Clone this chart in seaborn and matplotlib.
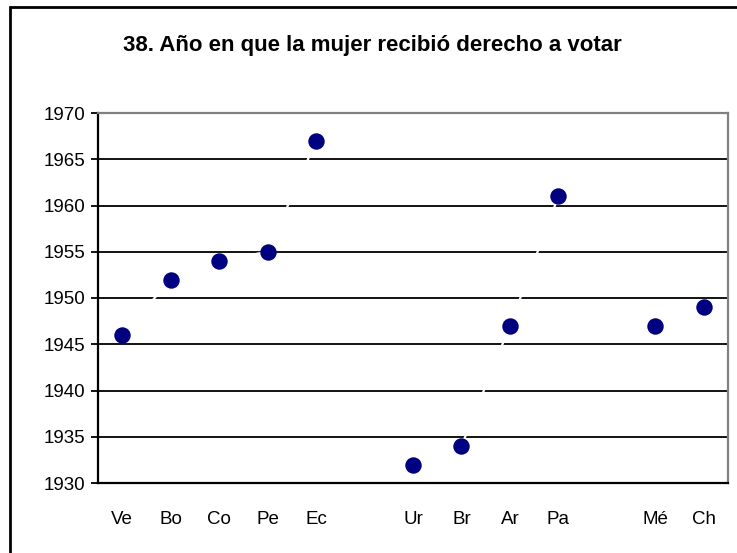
import numpy as np
import pandas as pd
import matplotlib
matplotlib.use("Agg")
import matplotlib.pyplot as plt
from matplotlib.patches import Rectangle
import seaborn as sns

# Countries (blank slots separate the regional groups)
categories = ["Ve", "Bo", "Co", "Pe", "Ec", "", "Ur", "Br", "Ar", "Pa", "", "Mé", "Ch"]
years = [1946, 1952, 1954, 1955, 1967, np.nan, 1932, 1934, 1947, 1961, np.nan, 1947, 1949]
y_ticks = [1930, 1935, 1940, 1945, 1950, 1955, 1960, 1965, 1970]
title = "38. Año en que la mujer recibió derecho a votar"

df = pd.DataFrame({"pos": np.arange(len(categories)), "pais": categories, "anio": years})

sns.set_style("white")
plt.rcParams["font.family"] = ["Liberation Sans", "DejaVu Sans"]
plt.rcParams["text.color"] = "black"
plt.rcParams["xtick.color"] = "black"
plt.rcParams["ytick.color"] = "black"

fig = plt.figure(figsize=(7.37, 5.53), dpi=100)
ax = fig.add_axes([98 / 737, 1 - 483 / 553, 630 / 737, 370 / 553])

# horizontal gridlines
for yv in y_ticks[1:-1]:
    ax.axhline(yv, color="black", lw=1.3, zorder=1)

# white connecting line (breaks at the blank slots)
ax.plot(df["pos"], df["anio"], color="white", lw=1.6, zorder=2)

sns.scatterplot(data=df.dropna(), x="pos", y="anio", ax=ax, s=140,
                color="#000080", edgecolor="#000080", linewidth=0, zorder=3, legend=False)

ax.set_xlim(-0.5, len(categories) - 0.5)
ax.set_ylim(1930, 1970)
ax.set_yticks(y_ticks)
ax.set_yticklabels([str(v) for v in y_ticks], fontsize=13.5)
ax.set_xticks(df["pos"])
ax.set_xticklabels(categories, fontsize=13.5)
ax.set_xticks(np.arange(-0.5, len(categories)), minor=True)
ax.tick_params(axis="x", which="major", length=0, pad=20)
ax.tick_params(axis="x", which="minor", length=5, width=1.3, color="black", direction="out")
ax.tick_params(axis="y", length=5, width=1.3, color="black", direction="out", pad=4, left=True)
ax.set_xlabel("")
ax.set_ylabel("")

for side in ["left", "bottom"]:
    ax.spines[side].set_color("black")
    ax.spines[side].set_linewidth(1.6)
for side in ["top", "right"]:
    ax.spines[side].set_color("#808080")
    ax.spines[side].set_linewidth(1.6)

fig.text(372 / 737, 1 - 45 / 553, title, ha="center", va="center",
         fontsize=16, fontweight="bold", color="black")

# outer chart frame
fig.patches.append(Rectangle((9.5 / 737, -0.1), 1.2, 1 - 7.5 / 553 + 0.1,
                             transform=fig.transFigure, fill=False,
                             edgecolor="black", lw=2))

fig.savefig("out.png", dpi=100, facecolor="white")
